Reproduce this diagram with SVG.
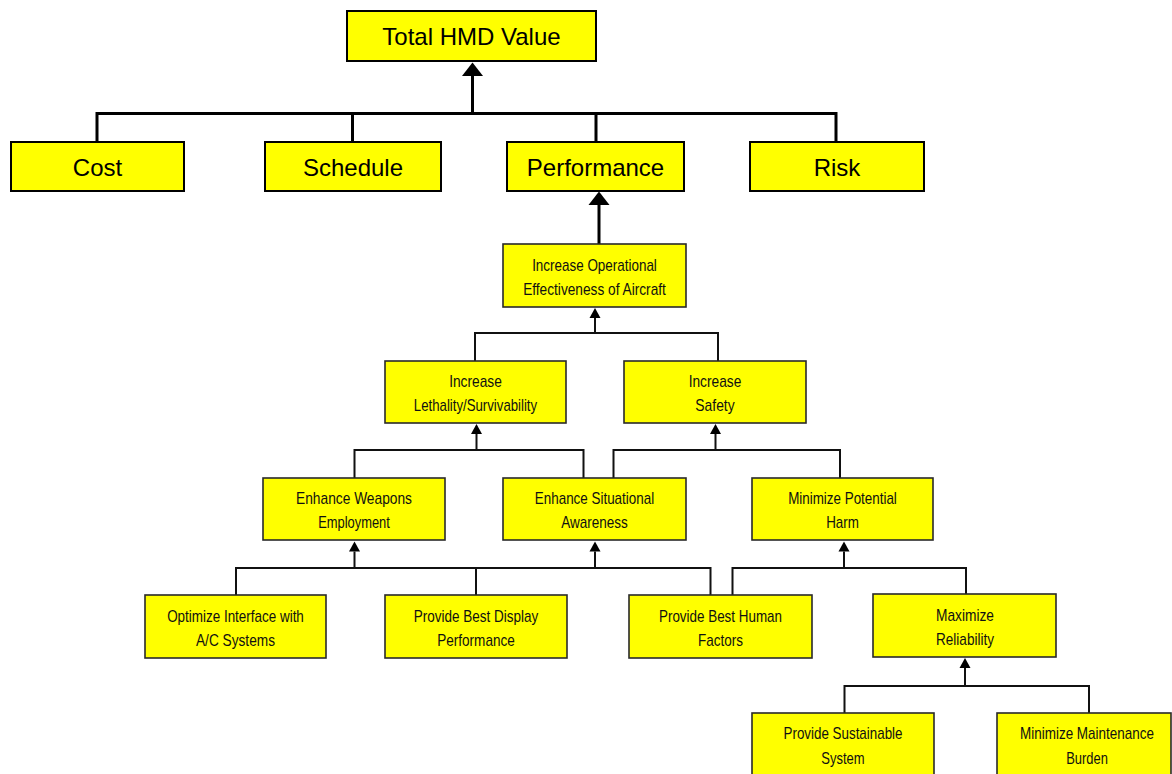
<svg xmlns="http://www.w3.org/2000/svg" width="1172" height="774" viewBox="0 0 1172 774">
  <defs>
    <style>
      .bg { fill: #ffffff; }
      .box-top { fill: #ffff00; stroke: #000000; stroke-width: 2; }
      .box { fill: #ffff00; stroke: #2a2a2a; stroke-width: 1.6; }
      .lbl-top { font-family: "Liberation Sans", Arial, sans-serif; font-size: 24px; fill: #000000; text-anchor: middle; }
      .lbl { font-family: "Liberation Sans", Arial, sans-serif; font-size: 17px; fill: #111111; text-anchor: middle; }
      .wire-thick { fill: none; stroke: #000000; stroke-width: 3; }
      .wire { fill: none; stroke: #111111; stroke-width: 2; }
    </style>
    <marker id="arrowBig" markerUnits="userSpaceOnUse" markerWidth="14" markerHeight="22" refX="0" refY="10.5" orient="auto" overflow="visible">
      <path d="M0,0 L13.5,10.5 L0,21 Z" fill="#000000"/>
    </marker>
    <marker id="arrowSmall" markerUnits="userSpaceOnUse" markerWidth="11" markerHeight="12" refX="0" refY="5.5" orient="auto" overflow="visible">
      <path d="M0,0 L10,5.5 L0,11 Z" fill="#000000"/>
    </marker>
  </defs>

  <rect class="bg" x="0" y="0" width="1172" height="774"/>

  <!-- connectors -->
  <g id="connectors">
    <!-- Total HMD Value tier -->
    <path class="wire-thick" d="M97,142 V113.5 H836 V142 M352.5,113.5 V142 M596,113.5 V142"/>
    <path class="wire-thick" d="M472.5,113.5 V76" marker-end="url(#arrowBig)"/>
    <!-- Performance stem -->
    <path class="wire-thick" d="M599,244 V205" marker-end="url(#arrowBig)"/>
    <!-- Increase Operational Effectiveness -->
    <path class="wire" d="M475,361 V333 H718 V361"/>
    <path class="wire" d="M595,333 V318" marker-end="url(#arrowSmall)"/>
    <!-- Increase Lethality/Survivability -->
    <path class="wire" d="M354.5,478 V450 H583.5 V478"/>
    <path class="wire" d="M476.5,450 V434" marker-end="url(#arrowSmall)"/>
    <!-- Increase Safety -->
    <path class="wire" d="M613.5,478 V450 H840 V478"/>
    <path class="wire" d="M715.5,450 V434" marker-end="url(#arrowSmall)"/>
    <!-- Weapons Employment / Situational Awareness -->
    <path class="wire" d="M236,595 V568 H710.5 V595 M476,568 V595"/>
    <path class="wire" d="M354.5,568 V551.5" marker-end="url(#arrowSmall)"/>
    <path class="wire" d="M595,568 V551.5" marker-end="url(#arrowSmall)"/>
    <!-- Minimize Potential Harm -->
    <path class="wire" d="M732.5,595 V568 H966 V594"/>
    <path class="wire" d="M844,568 V551.5" marker-end="url(#arrowSmall)"/>
    <!-- Maximize Reliability -->
    <path class="wire" d="M844.5,713 V686 H1089 V713"/>
    <path class="wire" d="M965,686 V668" marker-end="url(#arrowSmall)"/>
  </g>

  <!-- top tier -->
  <g id="total-hmd-value">
    <rect class="box-top" x="347" y="11" width="249" height="50"/>
    <text class="lbl-top" x="471.5" y="45">Total HMD Value</text>
  </g>
  <g id="cost">
    <rect class="box-top" x="11" y="142" width="173" height="49"/>
    <text class="lbl-top" x="97.5" y="176">Cost</text>
  </g>
  <g id="schedule">
    <rect class="box-top" x="265" y="142" width="176" height="49"/>
    <text class="lbl-top" x="353" y="176">Schedule</text>
  </g>
  <g id="performance">
    <rect class="box-top" x="507" y="142" width="177" height="49"/>
    <text class="lbl-top" x="595.5" y="176">Performance</text>
  </g>
  <g id="risk">
    <rect class="box-top" x="750" y="142" width="174" height="49"/>
    <text class="lbl-top" x="837" y="176">Risk</text>
  </g>

  <!-- performance objectives -->
  <g id="increase-operational-effectiveness">
    <rect class="box" x="503" y="244" width="183" height="63"/>
    <text class="lbl" x="594.5" y="270.5" textLength="124.7" lengthAdjust="spacingAndGlyphs">Increase Operational</text>
    <text class="lbl" x="594.5" y="295" textLength="142.7" lengthAdjust="spacingAndGlyphs">Effectiveness of Aircraft</text>
  </g>
  <g id="increase-lethality">
    <rect class="box" x="385" y="361" width="181" height="62"/>
    <text class="lbl" x="475.5" y="386.5" textLength="52.7" lengthAdjust="spacingAndGlyphs">Increase</text>
    <text class="lbl" x="475.5" y="411" textLength="123.3" lengthAdjust="spacingAndGlyphs">Lethality/Survivability</text>
  </g>
  <g id="increase-safety">
    <rect class="box" x="624" y="361" width="182" height="62"/>
    <text class="lbl" x="715" y="386.5" textLength="52.7" lengthAdjust="spacingAndGlyphs">Increase</text>
    <text class="lbl" x="715" y="411" textLength="39.3" lengthAdjust="spacingAndGlyphs">Safety</text>
  </g>
  <g id="enhance-weapons">
    <rect class="box" x="263" y="478" width="182" height="62"/>
    <text class="lbl" x="354" y="503.5" textLength="116" lengthAdjust="spacingAndGlyphs">Enhance Weapons</text>
    <text class="lbl" x="354" y="528" textLength="71.7" lengthAdjust="spacingAndGlyphs">Employment</text>
  </g>
  <g id="enhance-situational">
    <rect class="box" x="503" y="478" width="183" height="62"/>
    <text class="lbl" x="594.5" y="503.5" textLength="119.3" lengthAdjust="spacingAndGlyphs">Enhance Situational</text>
    <text class="lbl" x="594.5" y="528" textLength="66.7" lengthAdjust="spacingAndGlyphs">Awareness</text>
  </g>
  <g id="minimize-harm">
    <rect class="box" x="752" y="478" width="181" height="62"/>
    <text class="lbl" x="842.5" y="503.5" textLength="108.7" lengthAdjust="spacingAndGlyphs">Minimize Potential</text>
    <text class="lbl" x="842.5" y="528" textLength="32.7" lengthAdjust="spacingAndGlyphs">Harm</text>
  </g>
  <g id="optimize-interface">
    <rect class="box" x="145" y="595" width="181" height="63"/>
    <text class="lbl" x="235.5" y="621.5" textLength="136.7" lengthAdjust="spacingAndGlyphs">Optimize Interface with</text>
    <text class="lbl" x="235.5" y="646" textLength="79" lengthAdjust="spacingAndGlyphs">A/C Systems</text>
  </g>
  <g id="best-display">
    <rect class="box" x="385" y="595" width="182" height="63"/>
    <text class="lbl" x="476" y="621.5" textLength="124.3" lengthAdjust="spacingAndGlyphs">Provide Best Display</text>
    <text class="lbl" x="476" y="646" textLength="77.7" lengthAdjust="spacingAndGlyphs">Performance</text>
  </g>
  <g id="best-human-factors">
    <rect class="box" x="629" y="595" width="183" height="63"/>
    <text class="lbl" x="720.5" y="621.5" textLength="123" lengthAdjust="spacingAndGlyphs">Provide Best Human</text>
    <text class="lbl" x="720.5" y="646" textLength="45" lengthAdjust="spacingAndGlyphs">Factors</text>
  </g>
  <g id="maximize-reliability">
    <rect class="box" x="873" y="594" width="183" height="63"/>
    <text class="lbl" x="965" y="620.5" textLength="58" lengthAdjust="spacingAndGlyphs">Maximize</text>
    <text class="lbl" x="965" y="645" textLength="58" lengthAdjust="spacingAndGlyphs">Reliability</text>
  </g>
  <g id="sustainable-system">
    <rect class="box" x="752" y="713" width="182" height="66"/>
    <text class="lbl" x="843" y="739" textLength="119" lengthAdjust="spacingAndGlyphs">Provide Sustainable</text>
    <text class="lbl" x="843" y="763.5" textLength="43.3" lengthAdjust="spacingAndGlyphs">System</text>
  </g>
  <g id="maintenance-burden">
    <rect class="box" x="997" y="713" width="174" height="66"/>
    <text class="lbl" x="1087" y="739" textLength="134" lengthAdjust="spacingAndGlyphs">Minimize Maintenance</text>
    <text class="lbl" x="1087" y="763.5" textLength="41.7" lengthAdjust="spacingAndGlyphs">Burden</text>
  </g>
</svg>
